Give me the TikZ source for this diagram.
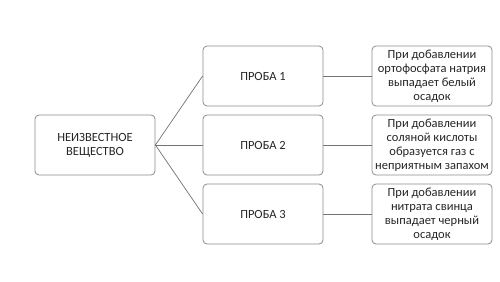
\documentclass[tikz,border=0pt]{standalone}
\usepackage{fontspec}
\setmainfont{Carlito}
\begin{document}
\begin{tikzpicture}[x=1pt,y=-1pt,
  box/.style={draw=black!45,line width=0.8pt,rounded corners=4pt,minimum width=120pt,minimum height=60pt,inner sep=0pt,align=center,font=\fontsize{12.5}{14}\selectfont,text=black!85},
  conn/.style={draw=black!55,line width=0.7pt}]
\useasboundingbox[fill=white] (0,0) rectangle (500,281);
\node[box] (src) at (95,145) {НЕИЗВЕСТНОЕ\\ВЕЩЕСТВО};
\node[box] (p1) at (263,76) {ПРОБА 1};
\node[box] (p2) at (263,145) {ПРОБА 2};
\node[box] (p3) at (263,214) {ПРОБА 3};
\node[box] (r1) at (432,76) {При добавлении\\ортофосфата натрия\\выпадает белый\\осадок};
\node[box] (r2) at (432,145) {При добавлении\\соляной кислоты\\образуется газ с\\неприятным запахом};
\node[box] (r3) at (432,214) {При добавлении\\нитрата свинца\\выпадает черный\\осадок};
\draw[conn] (src.east) -- (p1.west);
\draw[conn] (src.east) -- (p2.west);
\draw[conn] (src.east) -- (p3.west);
\draw[conn] (p1.east) -- (r1.west);
\draw[conn] (p2.east) -- (r2.west);
\draw[conn] (p3.east) -- (r3.west);
\end{tikzpicture}
\end{document}
